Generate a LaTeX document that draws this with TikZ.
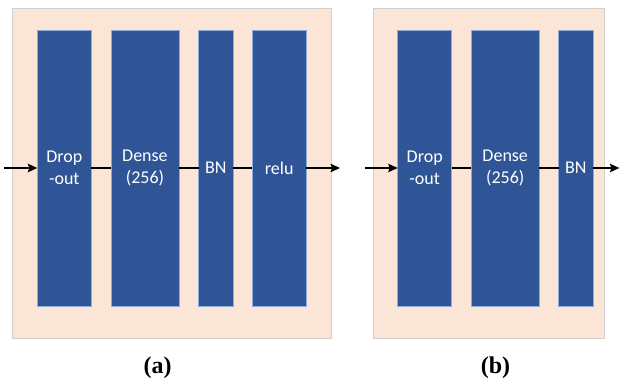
\documentclass[tikz,border=0pt]{standalone}
\usepackage{fontspec}
\setmainfont{Carlito}
\newfontfamily\capfont{Liberation Serif}
\usepackage{tikz}
\usetikzlibrary{arrows.meta, positioning, backgrounds}
\definecolor{layerblue}{HTML}{2F5597}
\definecolor{layeredge}{HTML}{8FAADC}
\definecolor{panelfill}{HTML}{FBE5D6}
\definecolor{paneledge}{HTML}{D0CECE}
\tikzstyle{layer}   = [rectangle, draw=layeredge, line width=0.6pt,
                       fill=layerblue, text=white, minimum height=276pt,
                       inner sep=0pt, outer sep=0pt, align=center,
                       font=\fontsize{18}{22}\selectfont]
\tikzstyle{panel}   = [draw=paneledge, line width=0.8pt, fill=panelfill]
\tikzstyle{link}    = [line width=1.2pt]
\tikzstyle{arrow}   = [line width=1.2pt,
                       -{Stealth[length=9.5pt, width=8.5pt, inset=1.5pt]}]
\tikzstyle{caption} = [font=\capfont\bfseries\fontsize{24}{26}\selectfont]

\begin{document}
\begin{tikzpicture}[x=1pt, y=1pt, node distance=19.5pt]
    \useasboundingbox (0,0) rectangle (620,384);

    % ── Block (a): dropout, dense, BN, relu ─────────────────────────────────
    \node (dropA)  [layer, minimum width=54pt, anchor=west] at (37.3,216) {Drop\\-out};
    \node (denseA) [layer, minimum width=68.3pt, right=of dropA]  {Dense\\(256)};
    \node (bnA)    [layer, minimum width=34.3pt, right=of denseA] {BN};
    \node (reluA)  [layer, minimum width=53.6pt, right=of bnA]    {relu};

    % ── Block (b): dropout, dense, BN ───────────────────────────────────────
    \node (dropB)  [layer, minimum width=54pt, anchor=west] at (397.7,216) {Drop\\-out};
    \node (denseB) [layer, minimum width=68pt, right=of dropB]    {Dense\\(256)};
    \node (bnB)    [layer, minimum width=34.4pt, right=of denseB] {BN};

    % ── Loose ends of the data path ─────────────────────────────────────────
    \coordinate (inA)  at (4,216);
    \coordinate (outA) at (340,216);
    \coordinate (inB)  at (365,216);
    \coordinate (outB) at (619.4,216);

    % ── Arrows (a) ──────────────────────────────────────────────────────────
    \draw [arrow] (inA)    -- (dropA);
    \draw [link]  (dropA)  -- (denseA);
    \draw [link]  (denseA) -- (bnA);
    \draw [link]  (bnA)    -- (reluA);
    \draw [arrow] (reluA)  -- (outA);

    % ── Arrows (b) ──────────────────────────────────────────────────────────
    \draw [arrow] (inB)    -- (dropB);
    \draw [link]  (dropB)  -- (denseB);
    \draw [link]  (denseB) -- (bnB);
    \draw [arrow] (bnB)    -- (outB);

    % ── Captions ────────────────────────────────────────────────────────────
    \node (capA) [caption] at (157.5,16) {(a)};
    \node (capB) [caption] at (495.5,16) {(b)};

    % ── Panels ──────────────────────────────────────────────────────────────
    \begin{scope}[on background layer]
        \draw [panel] (12,46)  rectangle (331,376);
        \draw [panel] (373,46) rectangle (604,376);
    \end{scope}

\end{tikzpicture}
\end{document}
